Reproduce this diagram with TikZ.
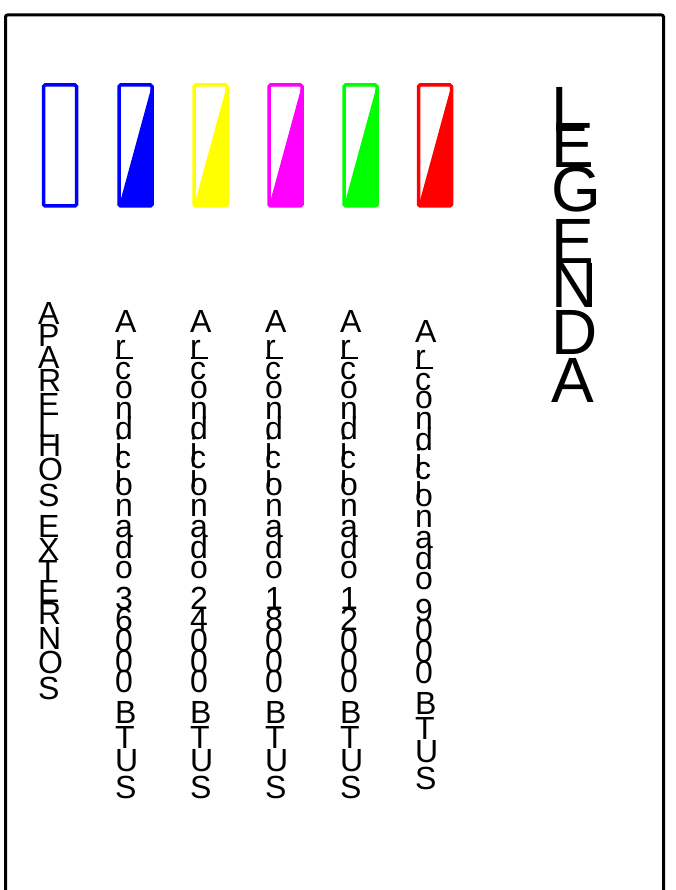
\documentclass[tikz,border=0pt]{standalone}
\usepackage{fontspec}
\setmainfont{Liberation Sans}
\definecolor{kblue}{RGB}{0,0,255}
\definecolor{kyellow}{RGB}{255,255,0}
\definecolor{kmagenta}{RGB}{255,0,255}
\definecolor{kgreen}{RGB}{0,255,0}
\definecolor{kred}{RGB}{255,0,0}
\ExplSyntaxOn
\dim_new:N \l_vs_adv_dim
\box_new:N \l_vs_char_box
\NewDocumentCommand \vstr { m m }
  {
    \vbox:n
      {
        \offinterlineskip
        \str_map_inline:nn {#2}
          {
            \hbox_set:Nn \l_vs_char_box { ##1 }
            \dim_set:Nn \l_vs_adv_dim { #1 \box_wd:N \l_vs_char_box }
            \box_set_ht:Nn \l_vs_char_box { \fontcharht \font `A }
            \box_set_dp:Nn \l_vs_char_box { 0pt }
            \vbox_to_ht:nn { \l_vs_adv_dim } { \box_use_drop:N \l_vs_char_box \vss }
          }
      }
  }
\ExplSyntaxOff
\tikzset{
  frameline/.style={line width=3pt, rounded corners=2pt},
  legendbox/.style={line width=3.5pt, rounded corners=1.5pt},
  vlabel/.style={anchor=north west, inner sep=0pt, font=\fontsize{32}{32}\selectfont},
  titlelabel/.style={anchor=north west, inner sep=0pt, font=\fontsize{64}{64}\selectfont},
  rbar/.style={line width=1.4pt}
}
\begin{document}
\begin{tikzpicture}[x=1pt,y=-1pt]
\useasboundingbox (0,0) rectangle (675,890);
\draw[frameline] (5.5,905) -- (5.5,15) -- (663.5,15) -- (663.5,905);
% legend boxes
\foreach \cx/\col/\fillit in {60/kblue/0, 135.5/kblue/1, 210.5/kyellow/1, 285.5/kmagenta/1, 360.5/kgreen/1, 435/kred/1} {
  \ifnum\fillit=1
    \fill[\col] (\cx-16.5,206) -- (\cx+16.5,85) -- (\cx+16.5,206) -- cycle;
  \fi
  \draw[legendbox, draw=\col] (\cx-16.5,85) rectangle (\cx+16.5,206);
}
% vertical labels
\node[vlabel] (ext) at (38,302) {\vstr{1.044}{APARELHOS EXTERNOS}};
\node[vlabel] (ac36) at (115,310) {\vstr{1.165}{Ar condicionado 36000 BTUS}};
\node[vlabel] (ac24) at (190,310) {\vstr{1.165}{Ar condicionado 24000 BTUS}};
\node[vlabel] (ac18) at (265,310) {\vstr{1.165}{Ar condicionado 18000 BTUS}};
\node[vlabel] (ac12) at (340,310) {\vstr{1.165}{Ar condicionado 12000 BTUS}};
\node[vlabel] (ac9) at (415,320) {\vstr{1.17}{Ar condicionado 9000 BTUS}};
\foreach \x/\y in {115/357.8, 190/357.8, 265/357.8, 340/357.8, 415/367.9} {
  \draw[rbar] (\x+1,\y) -- (\x+18,\y);
}
\node[titlelabel] (legenda) at (551,87) {\vstr{1.03}{LEGENDA}};
\end{tikzpicture}
\end{document}
